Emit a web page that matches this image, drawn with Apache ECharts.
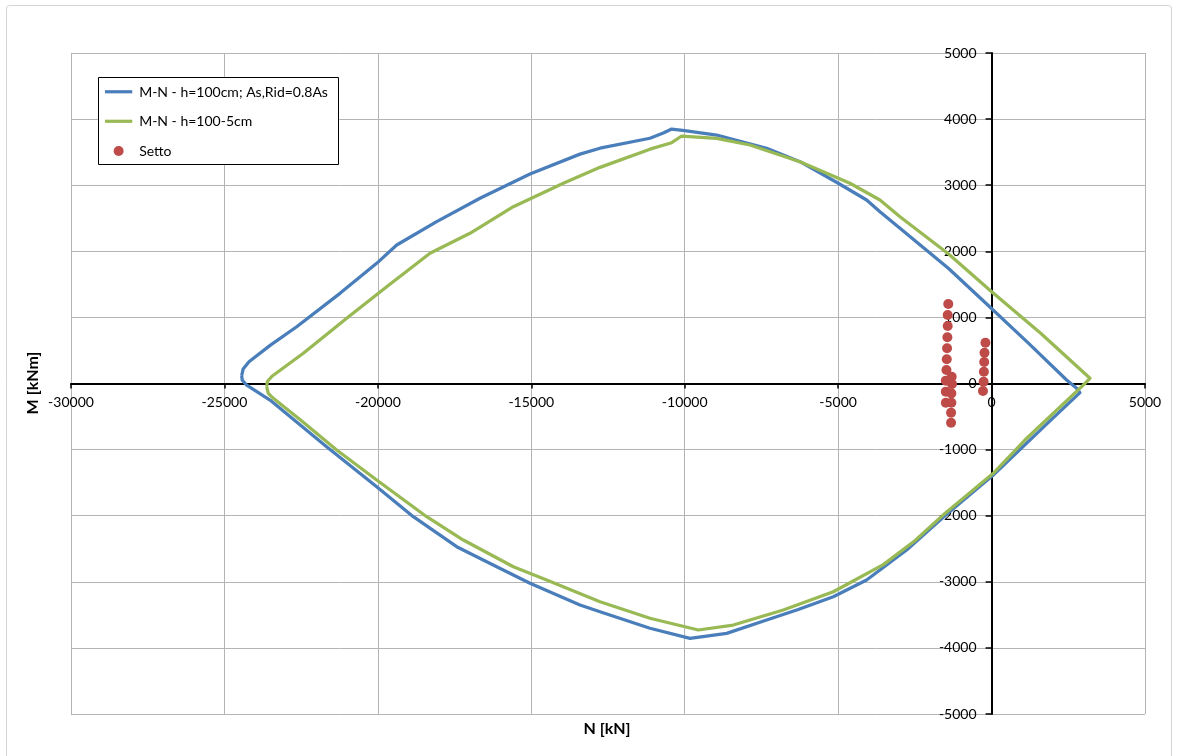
<!DOCTYPE html>
<html>
<head>
<meta charset="utf-8">
<script src="https://cdn.jsdelivr.net/npm/echarts@6/dist/echarts.min.js"></script>
<style>
  html, body { margin: 0; padding: 0; background: #ffffff; }
  #chart { width: 1179px; height: 756px; }
</style>
</head>
<body>
<div id="chart"></div>
<script>
// Interaction domain M-N, section h=100cm with reduced reinforcement (closed loop, [N kN, M kNm])
const domainFull = [
  [-24437, 120], [-24390, 220], [-24200, 330], [-23500, 580], [-22645, 859],
  [-21234, 1364], [-20038, 1818], [-19386, 2095], [-18083, 2448], [-16672, 2802],
  [-15042, 3170], [-13413, 3470], [-12761, 3560], [-11132, 3710], [-10698, 3790],
  [-10425, 3850], [-10000, 3825], [-8960, 3759], [-7330, 3558], [-6244, 3356],
  [-4995, 3029], [-4072, 2776], [-3637, 2599], [-2985, 2348], [-1400, 1740],
  [-63, 1162], [1200, 610], [2446, 53], [2772, -73], [2881, -139],
  [1904, -565], [56, -1384], [-1520, -2000], [-2768, -2519], [-4072, -2973],
  [-5158, -3225], [-6300, -3420], [-7330, -3578], [-8633, -3780], [-9828, -3855],
  [-11132, -3703], [-12761, -3452], [-13413, -3351], [-15042, -3023], [-16127, -2772],
  [-17431, -2469], [-18845, -2015], [-20038, -1561], [-21670, -956], [-23515, -250],
  [-24274, -23], [-24420, 50], [-24437, 120]
];

// Interaction domain M-N, section h=100-5cm (closed loop, [N kN, M kNm])
const domainReduced = [
  [-23623, -50], [-23600, 30], [-23450, 110], [-22429, 457], [-21016, 986],
  [-19712, 1464], [-18301, 1970], [-16998, 2272], [-15585, 2675], [-13956, 3029],
  [-12761, 3270], [-11132, 3545], [-10425, 3643], [-10099, 3744], [-8960, 3709],
  [-7873, 3608], [-6244, 3356], [-4615, 3029], [-3637, 2776], [-2985, 2523],
  [-1400, 1960], [-63, 1415], [1600, 760], [3207, 79], [2936, -48],
  [1087, -855], [56, -1359], [-1520, -1965], [-2500, -2380], [-3528, -2740],
  [-4615, -3015], [-5158, -3150], [-6787, -3427], [-8416, -3654], [-9556, -3729],
  [-11132, -3552], [-12761, -3301], [-14499, -2973], [-15585, -2772], [-17215, -2368],
  [-18409, -2015], [-20038, -1460], [-21342, -1006], [-22500, -560], [-23407, -224],
  [-23570, -149], [-23623, -50]
];

// Wall (setto) load pairs [N kN, M kNm]
const settoPoints = [
  [-1411, 1203], [-1430, 1036], [-1430, 870], [-1440, 699], [-1450, 532],
  [-1460, 366], [-1470, 204], [-1490, 43], [-1490, -123], [-1490, -290],
  [-1300, 103], [-1290, -8], [-1310, -149], [-1310, -290], [-1320, -441], [-1320, -593],
  [-200, 617], [-230, 466], [-240, 325], [-250, 179], [-260, 27], [-280, -113]
];

const seriesNames = ['M-N - h=100cm; As,Rid=0.8As', 'M-N - h=100-5cm', 'Setto'];
const xTicks = { min: -30000, max: 5000, step: 5000 };
const yTicks = { min: -5000, max: 5000, step: 1000 };
const axisTitles = { x: 'N [kN]', y: 'M [kNm]' };

const FONT = 'Lato';
// thin horizontal bar used as the legend swatch of the two curves
const LINE_ICON = 'path://M0,0 M0,3.5 L30,3.5 L30,7 L0,7 Z M30,11';

const chart = echarts.init(document.getElementById('chart'), null, { renderer: 'canvas' });

chart.setOption({
  animation: false,
  backgroundColor: '#ffffff',
  textStyle: { fontFamily: FONT },
  grid: { left: 71, right: 34, top: 53, bottom: 42, containLabel: false },
  graphic: [
    {
      type: 'rect', z: -10, silent: true,
      shape: { x: 6.5, y: 5.5, width: 1165, height: 760, r: 3 },
      style: { fill: 'none', stroke: '#d4d4d4', lineWidth: 1 }
    },
    {
      type: 'rect', z: 10, silent: true,
      shape: { x: 98.5, y: 77.5, width: 240, height: 87 },
      style: { fill: '#ffffff', stroke: '#000000', lineWidth: 1 }
    },
    {
      type: 'text', z: 10, silent: true, x: 607, y: 729,
      style: {
        text: axisTitles.x, fontFamily: FONT, fontSize: 16, fontWeight: 'bold',
        fill: '#000000', align: 'center', verticalAlign: 'middle'
      }
    },
    {
      type: 'text', z: 10, silent: true, x: 33, y: 383, rotation: Math.PI / 2,
      style: {
        text: axisTitles.y, fontFamily: FONT, fontSize: 16, fontWeight: 'bold',
        fill: '#000000', align: 'center', verticalAlign: 'middle'
      }
    }
  ],
  legend: {
    z: 11,
    orient: 'vertical',
    left: 105, top: 85,
    padding: 0,
    itemWidth: 31, itemHeight: 10, itemGap: 15.5,
    textStyle: { fontFamily: FONT, fontSize: 14, color: '#000000', lineHeight: 14 },
    data: [
      { name: seriesNames[0], icon: LINE_ICON },
      { name: seriesNames[1], icon: LINE_ICON },
      { name: seriesNames[2], icon: 'circle' }
    ]
  },
  xAxis: {
    type: 'value',
    min: xTicks.min, max: xTicks.max, interval: xTicks.step,
    axisLine: { onZero: false, lineStyle: { color: '#000000', width: 2 } },
    axisTick: { show: true, inside: false, length: 5, lineStyle: { color: '#000000', width: 1.5 } },
    axisLabel: { margin: 12, fontSize: 14, color: '#000000', fontFamily: FONT, formatter: v => String(v) },
    splitLine: { show: true, lineStyle: { color: '#b4b4b4', width: 1 } }
  },
  yAxis: {
    type: 'value',
    min: yTicks.min, max: yTicks.max, interval: yTicks.step,
    axisLine: { onZero: false, lineStyle: { color: '#000000', width: 2 } },
    axisTick: { show: true, inside: false, length: 6, lineStyle: { color: '#000000', width: 1.5 } },
    axisLabel: { margin: 15, fontSize: 14, color: '#000000', fontFamily: FONT, formatter: v => String(v) },
    splitLine: { show: true, lineStyle: { color: '#b4b4b4', width: 1 } }
  },
  series: [
    {
      name: seriesNames[0], type: 'line', data: domainFull,
      symbol: 'none', smooth: false, z: 3,
      lineStyle: { color: '#4a7ebb', width: 3.25, join: 'round' },
      itemStyle: { color: '#4a7ebb' }
    },
    {
      name: seriesNames[1], type: 'line', data: domainReduced,
      symbol: 'none', smooth: false, z: 3,
      lineStyle: { color: '#98b954', width: 3.25, join: 'round' },
      itemStyle: { color: '#98b954' }
    },
    {
      name: seriesNames[2], type: 'scatter', data: settoPoints,
      symbol: 'circle', symbolSize: 10, z: 4,
      itemStyle: { color: '#be4b48', opacity: 1 }
    }
  ]
});

// Move both axes (line, ticks and labels) so they cross at the origin N=0, M=0
const originX = chart.convertToPixel({ xAxisIndex: 0 }, 0);
const leftX = chart.convertToPixel({ xAxisIndex: 0 }, xTicks.min);
const originY = chart.convertToPixel({ yAxisIndex: 0 }, 0);
const bottomY = chart.convertToPixel({ yAxisIndex: 0 }, yTicks.min);
chart.setOption({
  xAxis: { offset: -(bottomY - originY) },
  yAxis: { offset: -(originX - leftX) }
});
</script>
</body>
</html>
